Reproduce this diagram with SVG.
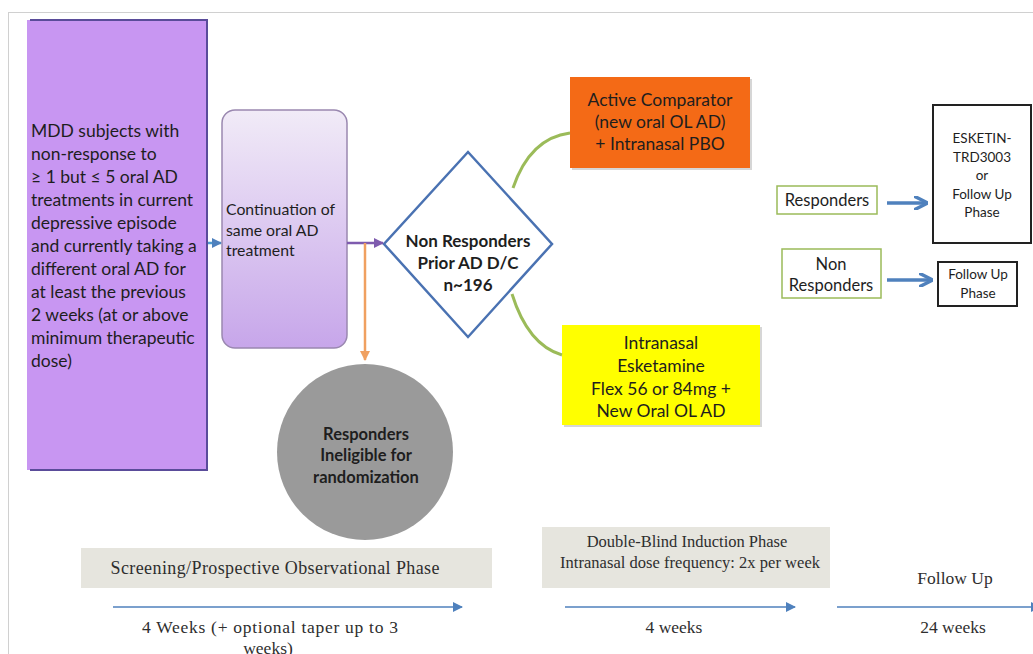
<svg xmlns="http://www.w3.org/2000/svg" width="1033" height="654" viewBox="0 0 1033 654">
<defs>
<linearGradient id="gCont" x1="0" y1="0" x2="0" y2="1">
<stop offset="0" stop-color="#F1EBF7"/>
<stop offset="1" stop-color="#C7A6EA"/>
</linearGradient>
<marker id="mBlue" viewBox="0 0 10 10" refX="9" refY="5" markerWidth="4" markerHeight="4" orient="auto"><path d="M0,0 L10,5 L0,10 z" fill="#4F81BD"/></marker>
<marker id="mPurple" viewBox="0 0 10 10" refX="9" refY="5" markerWidth="4" markerHeight="4" orient="auto"><path d="M0,0 L10,5 L0,10 z" fill="#7E5BAE"/></marker>
<marker id="mOrange" viewBox="0 0 10 10" refX="9" refY="5" markerWidth="4" markerHeight="4" orient="auto"><path d="M0,0 L10,5 L0,10 z" fill="#F0A060"/></marker>
<marker id="mTime" viewBox="0 0 10 10" refX="9" refY="5" markerWidth="10" markerHeight="10" orient="auto" markerUnits="userSpaceOnUse"><path d="M0,0 L10,5 L0,10 z" fill="#4F81BD"/></marker>
<marker id="mBig" viewBox="0 0 10 10" refX="8" refY="5" markerWidth="4" markerHeight="4" orient="auto"><path d="M0,0 L10,5 L0,10" fill="none" stroke="#4F81BD" stroke-width="2.5"/></marker>
</defs>
<style>
.cal{font-family:Lato,"Open Sans","Liberation Sans",sans-serif;fill:#1e1e1e}
.ser{font-family:"Liberation Serif","DejaVu Serif",serif;fill:#2e2e2e}
.mid{text-anchor:middle}
.gbox{fill:#fff;stroke:#9BBB59;stroke-width:1.5}
.kbox{fill:#fff;stroke:#222;stroke-width:2}
.tl{stroke:#4F81BD;stroke-width:1.5;fill:none}
.band{fill:#E6E5DE}
</style>
<rect x="8.5" y="12.5" width="1040" height="660" fill="none" stroke="#D0D0D0" stroke-width="1"/>

<g id="mdd">
<rect x="27" y="20" width="180" height="450" fill="#C896F2"/>
<path d="M30,20 H207 V470 H30" fill="none" stroke="#5A4C9A" stroke-width="2"/>
<text class="cal" font-size="17.5"><tspan x="31" y="137">MDD subjects with</tspan><tspan x="31" y="160">non-response to</tspan><tspan x="31" y="183">≥ 1 but ≤ 5 oral AD</tspan><tspan x="31" y="206">treatments in current</tspan><tspan x="31" y="229">depressive episode</tspan><tspan x="31" y="252">and currently taking a</tspan><tspan x="31" y="275">different oral AD for</tspan><tspan x="31" y="298">at least the previous</tspan><tspan x="31" y="321">2 weeks (at or above</tspan><tspan x="31" y="344">minimum therapeutic</tspan><tspan x="31" y="367">dose)</tspan></text>
</g>

<g id="continuation">
<rect x="222" y="110" width="125" height="238" rx="13" fill="url(#gCont)" stroke="#9A88B0" stroke-width="1.5"/>
<text class="cal" font-size="15.8"><tspan x="226" y="215">Continuation of</tspan><tspan x="226" y="236">same oral AD</tspan><tspan x="226" y="256">treatment</tspan></text>
</g>

<g id="diamond">
<polygon points="468,152 552,244 468,337 384,244" fill="#fff" stroke="#4A72B2" stroke-width="2.5"/>
<text class="cal mid" font-size="17" font-weight="bold" fill="#333"><tspan x="468" y="247">Non Responders</tspan><tspan x="468" y="269">Prior AD D/C</tspan><tspan x="468" y="291">n~196</tspan></text>
</g>

<g id="active">
<rect x="572" y="79" width="180" height="91" fill="#999" opacity="0.4"/>
<rect x="570" y="77" width="180" height="91" fill="#F46A16"/>
<text class="cal mid" font-size="17.5"><tspan x="660" y="106">Active Comparator</tspan><tspan x="660" y="128">(new oral OL AD)</tspan><tspan x="660" y="150">+ Intranasal PBO</tspan></text>
</g>

<g id="esketamine">
<rect x="564" y="327" width="198" height="100" fill="#999" opacity="0.4"/>
<rect x="562" y="325" width="198" height="100" fill="#FFFF00"/>
<text class="cal mid" font-size="17.5"><tspan x="661" y="349">Intranasal</tspan><tspan x="661" y="372">Esketamine</tspan><tspan x="661" y="395">Flex 56 or 84mg +</tspan><tspan x="661" y="417">New Oral OL AD</tspan></text>
</g>

<g id="ineligible">
<circle cx="365" cy="452" r="88" fill="#9A9A9A"/>
<text class="cal mid" font-size="16.5" font-weight="bold" fill="#333"><tspan x="366" y="440">Responders</tspan><tspan x="366" y="461">Ineligible for</tspan><tspan x="366" y="483">randomization</tspan></text>
</g>

<g id="responders">
<rect class="gbox" x="777" y="186" width="100" height="28"/>
<text class="cal mid" font-size="16.5"><tspan x="827" y="206">Responders</tspan></text>
</g>

<g id="nonresponders">
<rect class="gbox" x="782" y="249" width="99" height="49"/>
<text class="cal mid" font-size="16.5"><tspan x="831" y="270">Non</tspan><tspan x="831" y="291">Responders</tspan></text>
</g>

<g id="esketin3003">
<rect class="kbox" x="933" y="105" width="98" height="138"/>
<text class="cal mid" font-size="13.5"><tspan x="982" y="143">ESKETIN-</tspan><tspan x="982" y="162">TRD3003</tspan><tspan x="982" y="180">or</tspan><tspan x="982" y="199">Follow Up</tspan><tspan x="982" y="217">Phase</tspan></text>
</g>

<g id="followupbox">
<rect class="kbox" x="938" y="262" width="79" height="44"/>
<text class="cal mid" font-size="13.5"><tspan x="978" y="279">Follow Up</tspan><tspan x="978" y="298">Phase</tspan></text>
</g>

<g id="connectors">
<line x1="208" y1="243" x2="221" y2="243" stroke="#4F9BD0" stroke-width="2.5" marker-end="url(#mBlue)"/>
<line x1="347" y1="243" x2="383" y2="243" stroke="#7E5BAE" stroke-width="2.5" marker-end="url(#mPurple)"/>
<line x1="365" y1="243" x2="365" y2="360" stroke="#F0A060" stroke-width="2.5" marker-end="url(#mOrange)"/>
<path d="M513,188 Q530,138 570,133" fill="none" stroke="#9BBB59" stroke-width="3"/>
<path d="M512,294 Q528,345 562,355" fill="none" stroke="#9BBB59" stroke-width="3"/>
<line x1="887" y1="203" x2="925" y2="203" stroke="#4F81BD" stroke-width="3.5" marker-end="url(#mBig)"/>
<line x1="887" y1="280" x2="930" y2="280" stroke="#4F81BD" stroke-width="3.5" marker-end="url(#mBig)"/>
</g>

<g id="timeline">
<rect class="band" x="81" y="548" width="411" height="40"/>
<text class="ser mid" font-size="18" x="275" y="574" textLength="329" lengthAdjust="spacing">Screening/Prospective  Observational Phase</text>
<line class="tl" x1="113" y1="607" x2="462" y2="607" marker-end="url(#mTime)"/>
<text class="ser mid" font-size="17.5" x="270" y="633" textLength="256" lengthAdjust="spacing">4 Weeks (+ optional taper up to 3</text>
<text class="ser mid" font-size="17.5" x="268" y="654">weeks)</text>

<rect class="band" x="542" y="527" width="288" height="61"/>
<text class="ser mid" font-size="16.5" x="687" y="547">Double-Blind Induction Phase</text>
<text class="ser mid" font-size="16.5" x="690" y="568" textLength="260" lengthAdjust="spacing">Intranasal dose frequency: 2x per week</text>
<line class="tl" x1="565" y1="607" x2="795" y2="607" marker-end="url(#mTime)"/>
<text class="ser mid" font-size="17.5" x="674" y="633">4 weeks</text>

<text class="ser mid" font-size="17.5" x="955" y="584">Follow Up</text>
<line class="tl" x1="837" y1="607" x2="1040" y2="607" marker-end="url(#mTime)"/>
<text class="ser mid" font-size="17.5" x="953" y="633">24 weeks</text>
</g>
</svg>
